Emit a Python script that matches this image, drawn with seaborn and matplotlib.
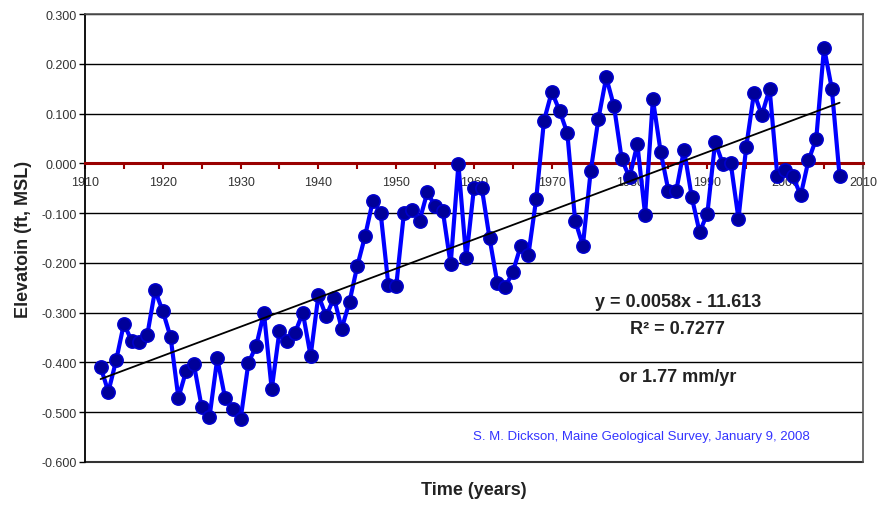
import numpy as np
import pandas as pd
import seaborn as sns
import matplotlib.pyplot as plt
from matplotlib.ticker import MultipleLocator, FormatStrFormatter

sns.set_style('white')
plt.rcParams['font.family'] = ['Liberation Sans', 'DejaVu Sans']

# annual mean sea level, Portland ME
years = list(range(1912, 2008))
elevation = [
    -0.409, -0.459, -0.396, -0.322, -0.357, -0.358, -0.345, -0.255, -0.297, -0.349,
    -0.471, -0.417, -0.404, -0.490, -0.510, -0.392, -0.471, -0.494, -0.514, -0.401,
    -0.367, -0.300, -0.454, -0.336, -0.357, -0.340, -0.300, -0.387, -0.265, -0.307,
    -0.270, -0.332, -0.278, -0.206, -0.146, -0.075, -0.099, -0.245, -0.247, -0.099,
    -0.093, -0.115, -0.058, -0.086, -0.096, -0.203, -0.002, -0.191, -0.049, -0.049,
    -0.150, -0.240, -0.249, -0.218, -0.166, -0.183, -0.071, 0.086, 0.144, 0.106,
    0.061, -0.115, -0.165, -0.016, 0.090, 0.173, 0.115, 0.008, -0.028, 0.039,
    -0.103, 0.129, 0.023, -0.055, -0.055, 0.028, -0.068, -0.138, -0.101, 0.043,
    -0.001, 0.001, -0.111, 0.034, 0.142, 0.097, 0.150, -0.026, -0.014, -0.026,
    -0.064, 0.006, 0.050, 0.233, 0.150, -0.026,
]
df = pd.DataFrame({'year': years, 'elev': elevation})

fig = plt.figure(figsize=(8.81, 5.06), dpi=100)
ax = fig.add_axes([0.0965, 0.085, 0.883, 0.885])

# grid lines every 0.1 ft
ax.set_ylim(-0.6, 0.3)
ax.set_xlim(1910, 2010)
ax.yaxis.set_major_locator(MultipleLocator(0.1))
ax.yaxis.set_major_formatter(FormatStrFormatter('%.3f'))
ax.grid(axis='y', color='black', linewidth=1.0)
ax.grid(axis='x', visible=False)
ax.set_axisbelow(True)

sns.regplot(data=df, x='year', y='elev', scatter=False, ci=None, ax=ax,
            color='black', line_kws={'linewidth': 1.3, 'zorder': 4})
sns.lineplot(data=df, x='year', y='elev', ax=ax, color='#0000ff', linewidth=3,
             marker='o', markersize=9.5, markerfacecolor='#000099',
             markeredgecolor='#0000cc', markeredgewidth=1.2, zorder=3)

# x axis crosses at zero (dark red), box bottom drawn separately
ax.spines['bottom'].set_position(('data', 0))
ax.spines['bottom'].set_color('#990000')
ax.spines['bottom'].set_linewidth(2.2)
ax.spines['bottom'].set_zorder(2.6)
ax.plot([0, 1], [0, 0], transform=ax.transAxes, color='#333333', lw=1.5, clip_on=False)
for s in ['top', 'right']:
    ax.spines[s].set_color('#555555')
    ax.spines[s].set_linewidth(1.2)
ax.spines['left'].set_color('black')
ax.spines['left'].set_linewidth(1.3)

ax.xaxis.set_major_locator(MultipleLocator(10))
ax.xaxis.set_minor_locator(MultipleLocator(5))
ax.tick_params(axis='x', which='both', direction='out', length=4, width=1.5,
               color='#990000', labelsize=9, labelcolor='#333333', pad=5, bottom=True)
ax.tick_params(axis='y', direction='out', length=4, width=1, color='black',
               labelsize=9, labelcolor='#333333', left=True, pad=2)

ax.set_xlabel('Time (years)', fontsize=13, fontweight='bold', color='#222222')
ax.xaxis.set_label_coords(0.5, -0.042)
ax.set_ylabel('Elevatoin (ft, MSL)', fontsize=13, fontweight='bold', color='#222222')
ax.yaxis.set_label_coords(-0.068, 0.5)

ax.text(0.762, 0.359, 'y = 0.0058x - 11.613', transform=ax.transAxes, ha='center',
        va='center', fontsize=13, fontweight='bold', color='#222222')
ax.text(0.762, 0.297, 'R² = 0.7277', transform=ax.transAxes, ha='center',
        va='center', fontsize=13, fontweight='bold', color='#222222')
ax.text(0.762, 0.192, 'or 1.77 mm/yr', transform=ax.transAxes, ha='center',
        va='center', fontsize=13, fontweight='bold', color='#222222')
ax.text(0.715, 0.058, 'S. M. Dickson, Maine Geological Survey, January 9, 2008',
        transform=ax.transAxes, ha='center', va='center', fontsize=9.5, color='#3333ff')

fig.savefig('out.png', dpi=100)
